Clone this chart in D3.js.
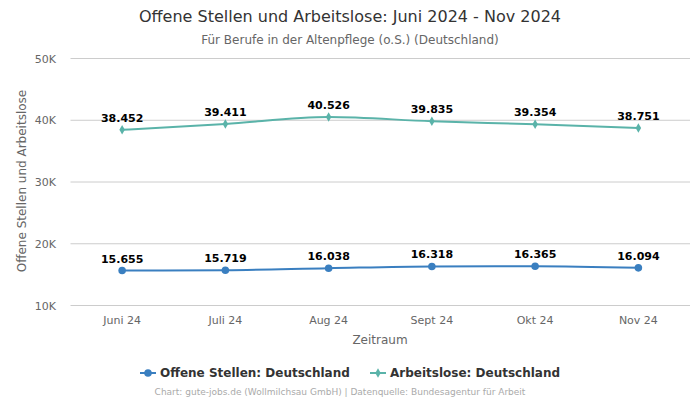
<!DOCTYPE html>
<html><head><meta charset="utf-8">
<script src="https://cdn.jsdelivr.net/npm/d3@7"></script>
<style>body{margin:0;background:#fff;font-family:"DejaVu Sans",sans-serif;}</style>
</head><body><svg id="c" width="700" height="400"></svg>
<script>
const categories = ["Juni 24","Juli 24","Aug 24","Sept 24","Okt 24","Nov 24"];
const offeneStellen = [15655,15719,16038,16318,16365,16094];
const arbeitslose = [38452,39411,40526,39835,39354,38751];
const yTicks = [10000,20000,30000,40000,50000];
const seriesNames = ["Offene Stellen: Deutschland","Arbeitslose: Deutschland"];

const svg = d3.select("#c");
const W=700,H=400;
const m={l:70.5,r:10,t:58,b:95};
const x = d3.scaleBand().domain(categories).range([m.l, W-m.r]);
const y = d3.scaleLinear().domain([10000,50000]).range([305.5,58.5]);
const fmt = d3.formatLocale({decimal:",",thousands:".",grouping:[3],currency:["","€"]}).format(",");

svg.append("text").attr("x",350).attr("y",22).attr("text-anchor","middle").attr("font-size",16).attr("fill","#333").text("Offene Stellen und Arbeitslose: Juni 2024 - Nov 2024");
svg.append("text").attr("x",350).attr("y",44).attr("text-anchor","middle").attr("font-size",12).attr("fill","#666").text("Für Berufe in der Altenpflege (o.S.) (Deutschland)");

// grid
svg.append("g").selectAll("line").data(yTicks).join("line")
  .attr("x1",m.l).attr("x2",W-m.r).attr("y1",d=>y(d)).attr("y2",d=>y(d))
  .attr("stroke","#ccc").attr("stroke-width",1);
svg.append("g").selectAll("text").data(yTicks).join("text")
  .attr("x",56).attr("y",d=>y(d)+4).attr("text-anchor","end").attr("font-size",11).attr("fill","#666")
  .text(d=>(d/1000)+"K");
svg.append("g").selectAll("text").data(categories).join("text")
  .attr("x",d=>x(d)+x.bandwidth()/2).attr("y",324).attr("text-anchor","middle").attr("font-size",11).attr("fill","#666")
  .text(d=>d);
svg.append("text").attr("x",380).attr("y",344).attr("text-anchor","middle").attr("font-size",12).attr("fill","#666").text("Zeitraum");
svg.append("text").attr("transform","translate(26,181) rotate(-90)").attr("text-anchor","middle").attr("font-size",12).attr("fill","#666").text("Offene Stellen und Arbeitslose");

const cx = d=>x(d)+x.bandwidth()/2;
const line = d3.line().x((d,i)=>cx(categories[i])).y(d=>y(d)).curve(d3.curveMonotoneX);
const series = [
  {vals:offeneStellen,color:"#3a7fc0",sym:d3.symbolCircle,size:45},
  {vals:arbeitslose,color:"#5ab3a9",sym:d3.symbolDiamond,size:26}
];
series.forEach(s=>{
  svg.append("path").attr("d",line(s.vals)).attr("fill","none").attr("stroke",s.color).attr("stroke-width",2);
  svg.append("g").selectAll("path").data(s.vals).join("path")
    .attr("transform",(d,i)=>`translate(${cx(categories[i])},${y(d)})`)
    .attr("d",d3.symbol().type(s.sym).size(s.size)).attr("fill",s.color);
  svg.append("g").selectAll("text").data(s.vals).join("text")
    .attr("x",(d,i)=>cx(categories[i])).attr("y",d=>y(d)-8).attr("text-anchor","middle")
    .attr("font-size",11).attr("font-weight","bold").attr("fill","#000").text(d=>fmt(d));
});

// legend
const lg = [{x:140,c:series[0]},{x:370,c:series[1]}];
lg.forEach((l,i)=>{
  svg.append("line").attr("x1",l.x).attr("x2",l.x+16).attr("y1",373).attr("y2",373).attr("stroke",l.c.color).attr("stroke-width",2);
  svg.append("path").attr("transform",`translate(${l.x+8},373)`).attr("d",d3.symbol().type(l.c.sym).size(l.c.size)).attr("fill",l.c.color);
  svg.append("text").attr("x",l.x+20).attr("y",377).attr("font-size",12).attr("font-weight","bold").attr("fill","#333").text(seriesNames[i]);
});
svg.append("text").attr("x",340).attr("y",395).attr("text-anchor","middle").attr("font-size",9).attr("fill","#aaa").text("Chart: gute-jobs.de (Wollmilchsau GmbH) | Datenquelle: Bundesagentur für Arbeit");
</script></body></html>
